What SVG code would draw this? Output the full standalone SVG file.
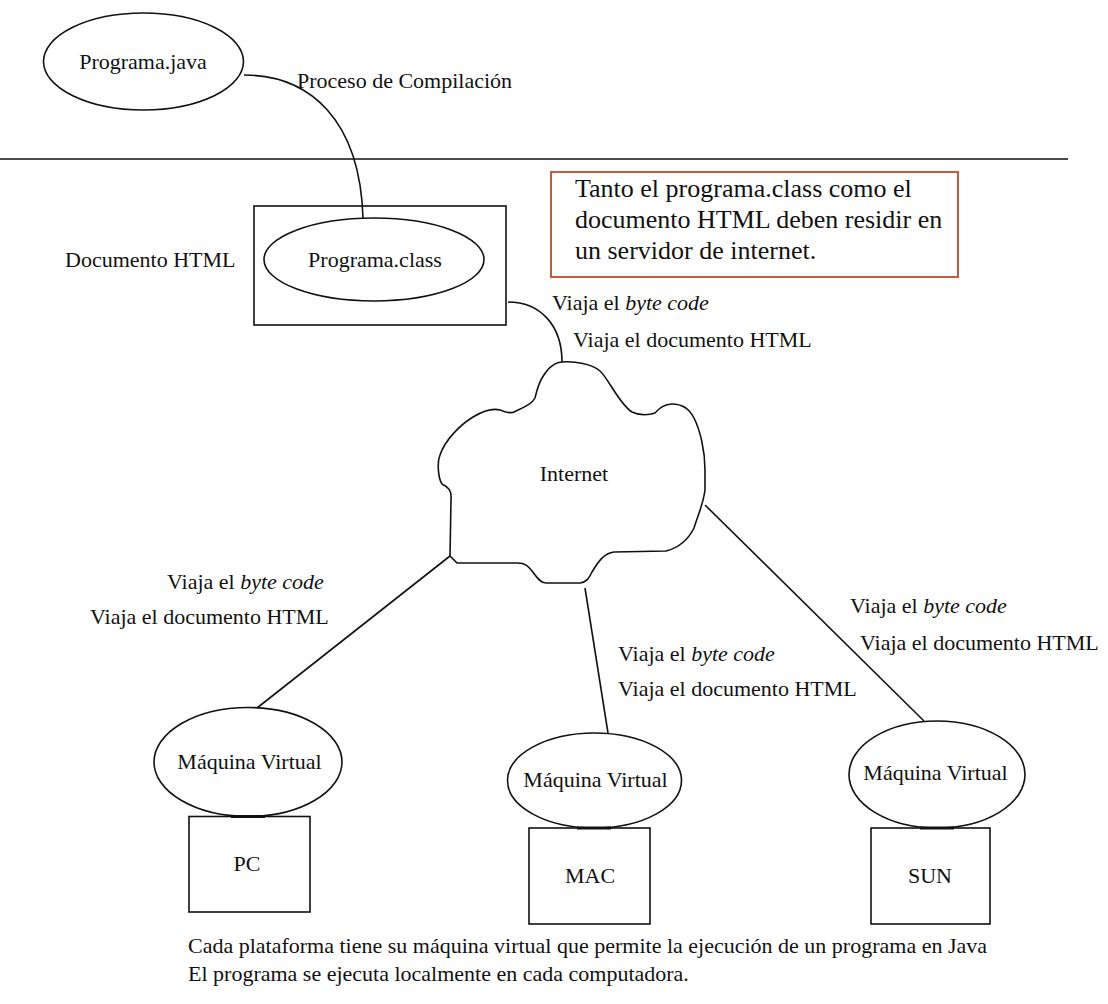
<svg xmlns="http://www.w3.org/2000/svg" width="1108" height="1004" viewBox="0 0 1108 1004">
  <style>
    .shape { fill: none; stroke: #111; stroke-width: 1.6; }
    .fillw { fill: #fff; stroke: #111; stroke-width: 1.6; }
    .seat { stroke: #111; stroke-width: 3; }
    .note { fill: #fff; stroke: #c65a3e; stroke-width: 2; }
    text { font-family: "Liberation Serif", "Times New Roman", serif; font-size: 22px; fill: #111; }
    .mid { text-anchor: middle; }
    .big { font-size: 26px; }
    .it { font-style: italic; }
  </style>

  <rect x="0" y="0" width="1108" height="1004" fill="#fff"/>

  <!-- separator between compile stage and server stage -->
  <line class="shape" x1="0" y1="159" x2="1068" y2="159"/>

  <!-- connectors -->
  <g id="connectors">
    <path class="shape" d="M244,75 C310,75 360,120 363,218"/>
    <path class="shape" d="M508,302 C540,302 562,325 562,362"/>
    <line class="shape" x1="450" y1="556" x2="257" y2="708"/>
    <line class="shape" x1="585" y1="588" x2="608" y2="733"/>
    <line class="shape" x1="705" y1="505" x2="924" y2="721"/>
  </g>

  <!-- source file -->
  <g id="programa-java">
    <ellipse class="fillw" cx="143.5" cy="61.5" rx="100" ry="48.5"/>
    <text class="mid" x="143" y="69">Programa.java</text>
  </g>
  <text id="label-compilacion" x="297" y="88">Proceso de Compilación</text>

  <!-- HTML document holding the compiled class -->
  <g id="documento-html">
    <rect class="shape" x="254" y="206" width="252" height="119"/>
    <text x="65" y="267">Documento HTML</text>
  </g>
  <g id="programa-class">
    <ellipse class="fillw" cx="374" cy="259.5" rx="110" ry="41.5"/>
    <text class="mid" x="375" y="267">Programa.class</text>
  </g>

  <!-- note about the server -->
  <g id="nota-servidor">
    <rect class="note" x="551" y="172" width="407" height="105"/>
    <text class="big" x="575" y="197">Tanto el programa.class como el</text>
    <text class="big" x="575" y="228">documento HTML deben residir en</text>
    <text class="big" x="575" y="259">un servidor de internet.</text>
  </g>

  <!-- labels on the links -->
  <g id="labels">
    <text x="552" y="310">Viaja el <tspan class="it">byte code</tspan></text>
    <text x="573" y="347">Viaja el documento HTML</text>

    <text x="167" y="589">Viaja el <tspan class="it">byte code</tspan></text>
    <text x="90" y="624">Viaja el documento HTML</text>

    <text x="618" y="661">Viaja el <tspan class="it">byte code</tspan></text>
    <text x="618" y="696">Viaja el documento HTML</text>

    <text x="850" y="613">Viaja el <tspan class="it">byte code</tspan></text>
    <text x="860" y="650">Viaja el documento HTML</text>
  </g>

  <!-- network cloud -->
  <g id="internet">
    <path class="fillw" stroke-linejoin="round" d="M562,362
      C575,361 592,364 600,371
      C608,378 620,405 632,412
      C640,416 650,415 655,413
      C660,408 664,404 672,404
      C684,404 690,410 694,418
      C700,430 705,450 705,470
      L705,490
      C703,505 698,515 694,528
      C688,540 678,548 666,551
      L614,552
      C604,553 598,562 592,572
      C589,578 587,582 580,583
      L546,583
      C540,583 536,576 532,571
      C528,566 525,563 518,563
      L457,563
      L450,556
      L451,500
      C452,490 448,487 442,484
      C438,478 437,462 440,455
      C445,440 460,425 473,417
      C483,411 492,408 500,410
      C506,412 510,414 514,412
      C524,407 532,404 535,398
      C537,390 538,385 542,378
      C547,370 552,363 562,362 Z"/>
    <text class="mid" x="574" y="481">Internet</text>
  </g>

  <!-- client platforms: virtual machine sitting on its computer -->
  <g id="vm-pc">
    <ellipse class="fillw" cx="248" cy="762" rx="94" ry="54.5"/>
    <text class="mid" x="249.5" y="769">Máquina Virtual</text>
  </g>
  <g id="pc">
    <rect class="shape" x="189" y="816.5" width="121" height="95.5"/>
    <line class="seat" x1="231" y1="816.5" x2="265" y2="816.5"/>
    <text class="mid" x="247" y="871">PC</text>
  </g>

  <g id="vm-mac">
    <ellipse class="fillw" cx="594.5" cy="780.5" rx="87" ry="47.5"/>
    <text class="mid" x="595.5" y="787">Máquina Virtual</text>
  </g>
  <g id="mac">
    <rect class="shape" x="529" y="828" width="121" height="96"/>
    <line class="seat" x1="577" y1="828" x2="611" y2="828"/>
    <text class="mid" x="590" y="883">MAC</text>
  </g>

  <g id="vm-sun">
    <ellipse class="fillw" cx="937" cy="774.5" rx="88" ry="53.5"/>
    <text class="mid" x="935.5" y="780">Máquina Virtual</text>
  </g>
  <g id="sun">
    <rect class="shape" x="871" y="828" width="119" height="96"/>
    <line class="seat" x1="920" y1="828" x2="954" y2="828"/>
    <text class="mid" x="930" y="883">SUN</text>
  </g>

  <!-- closing remarks -->
  <text x="188" y="953">Cada plataforma tiene su máquina virtual que permite la ejecución de un programa en Java</text>
  <text x="188" y="981">El programa se ejecuta localmente en cada computadora.</text>
</svg>
